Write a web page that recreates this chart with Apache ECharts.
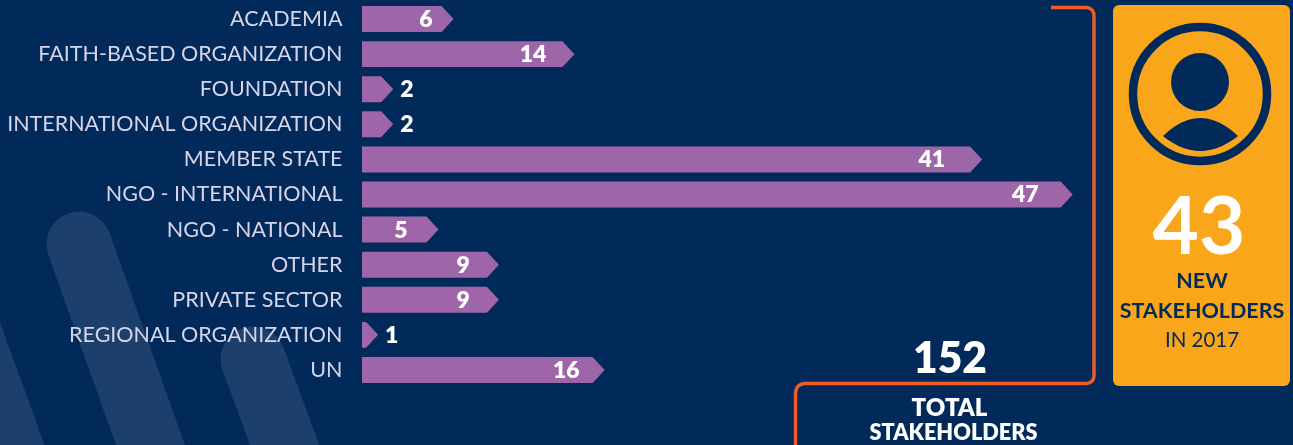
<!DOCTYPE html>
<html>
<head>
<meta charset="utf-8">
<style>
  html, body { margin: 0; padding: 0; background: #012a5b; }
  #chart { width: 1293px; height: 445px; }
</style>
<script src="https://cdn.jsdelivr.net/npm/echarts@6/dist/echarts.min.js"></script>
</head>
<body>
<div id="chart"></div>
<script>
// Stakeholder counts by type
const categories = [
  'ACADEMIA', 'FAITH-BASED ORGANIZATION', 'FOUNDATION', 'INTERNATIONAL ORGANIZATION',
  'MEMBER STATE', 'NGO - INTERNATIONAL', 'NGO - NATIONAL', 'OTHER',
  'PRIVATE SECTOR', 'REGIONAL ORGANIZATION', 'UN'
];
const counts = [6, 14, 2, 2, 41, 47, 5, 9, 9, 1, 16];
const totalStakeholders = 152;
const newStakeholders = 43;
const newYear = 2017;

// Distance from the arrow tip to the right edge of each value label
const labelInsets = [21, 28, 0, 0, 37, 34, 31, 29, 29, 0, 25];

const NAVY = '#012a5b';
const STRIPE = '#1c3f6b';
const PURPLE = '#9e66a8';
const ORANGE = '#f15a29';
const AMBER = '#f9a61a';
const FONT = 'Lato';
const HEAD = 12;
const OUTSIDE_BELOW = 5;

function renderArrow(params, api) {
  const i = api.value(1);
  const v = api.value(0);
  const start = api.coord([0, i]);
  const end = api.coord([v, i]);
  const h = api.size([0, 1])[1] * 0.74;
  const tip = end[0] + 1;
  const neck = Math.max(start[0] + 1, tip - HEAD);
  const y = start[1];
  const outside = v < OUTSIDE_BELOW;
  return {
    type: 'group',
    children: [
      {
        type: 'polygon',
        shape: { points: [
          [start[0], y - h / 2], [neck, y - h / 2], [tip, y],
          [neck, y + h / 2], [start[0], y + h / 2]
        ] },
        style: { fill: PURPLE }
      },
      {
        type: 'text',
        style: {
          text: String(v),
          x: outside ? tip + 7 : tip - labelInsets[params.dataIndex],
          y: y + 0.5,
          align: outside ? 'left' : 'right',
          verticalAlign: 'middle',
          fill: '#ffffff',
          font: '800 23px ' + FONT
        }
      }
    ]
  };
}

function label(text, x, y, size, weight, fill) {
  return {
    type: 'text',
    z: 5,
    style: {
      text: String(text), x, y, fill,
      align: 'center', verticalAlign: 'middle',
      font: weight + ' ' + size + 'px ' + FONT
    }
  };
}

function stripe(x1, y1, x2, y2) {
  return {
    type: 'polyline',
    z: 0,
    silent: true,
    shape: { points: [[x1, y1], [x2, y2]] },
    style: { stroke: STRIPE, lineWidth: 65, lineCap: 'round', fill: null }
  };
}

// Quadratic curve from a to b around control point c, as a run of points
function curve(a, c, b, steps) {
  const pts = [];
  for (let k = 0; k <= steps; k++) {
    const t = k / steps;
    const u = 1 - t;
    pts.push([u * u * a[0] + 2 * u * t * c[0] + t * t * b[0],
              u * u * a[1] + 2 * u * t * c[1] + t * t * b[1]]);
  }
  return pts;
}

const bracketPoints = [
  [1051, 7.5],
  ...curve([1085, 7.5], [1094, 7.5], [1094, 16.5], 10),
  ...curve([1094, 374.5], [1094, 383.5], [1085, 383.5], 10),
  ...curve([806, 383.5], [795.5, 383.5], [795.5, 394.5], 10),
  [795.5, 450]
];

const shoulderPoints = [
  ...curve([1163, 136], [1200, 100], [1238, 136], 24),
  ...curve([1238, 136], [1200, 166], [1163, 136], 24)
];

const chart = echarts.init(document.getElementById('chart'), null, { renderer: 'canvas' });
chart.setOption({
  backgroundColor: NAVY,
  animation: false,
  grid: { left: 362, top: 1.5, width: 906, height: 386, containLabel: false, outerBoundsMode: 'none' },
  xAxis: { type: 'value', min: 0, max: 60, show: false },
  yAxis: {
    type: 'category',
    data: categories,
    inverse: true,
    axisLine: { show: false },
    axisTick: { show: false },
    splitLine: { show: false },
    axisLabel: {
      margin: 19.5, color: '#d8d4e7', fontFamily: FONT, fontSize: 21.5, fontWeight: 400,
      padding: [6, 0, 0, 0]
    }
  },
  series: [{
    type: 'custom',
    renderItem: renderArrow,
    clip: false,
    z: 3,
    encode: { x: 0, y: 1 },
    data: counts.map((c, i) => [c, i])
  }],
  graphic: { elements: [
    // Faint diagonal bands behind the chart
    stripe(79, 244, 170, 500),
    stripe(253, 359, 305, 500),
    stripe(-90, 170, 30, 500),

    // Bracket tying the bars to the total
    {
      type: 'polyline',
      z: 4,
      shape: { points: bracketPoints },
      style: { stroke: ORANGE, lineWidth: 3.5, fill: null }
    },
    label(totalStakeholders, 950, 359, 42.5, 800, '#ffffff'),
    label('TOTAL', 949.5, 408, 24, 800, '#ffffff'),
    label('STAKEHOLDERS', 953.5, 433.5, 21.7, 800, '#ffffff'),

    // New-stakeholder panel with a person icon
    {
      type: 'rect', z: 4,
      shape: { x: 1113, y: 5, width: 177, height: 381, r: 6 },
      style: { fill: AMBER }
    },
    {
      type: 'circle', z: 5,
      shape: { cx: 1200, cy: 94, r: 67 },
      style: { fill: null, stroke: NAVY, lineWidth: 8.5 }
    },
    {
      type: 'circle', z: 5,
      shape: { cx: 1200, cy: 82, r: 29 },
      style: { fill: NAVY }
    },
    {
      type: 'polygon', z: 5,
      shape: { points: shoulderPoints },
      style: { fill: NAVY }
    },
    label(newStakeholders, 1199, 228, 80, 700, '#ffffff'),
    label('NEW', 1202, 281, 21.5, 700, NAVY),
    label('STAKEHOLDERS', 1202, 311, 21.5, 700, NAVY),
    label('IN ' + newYear, 1202, 340, 20.5, 400, NAVY)
  ] }
});
</script>
</body>
</html>
